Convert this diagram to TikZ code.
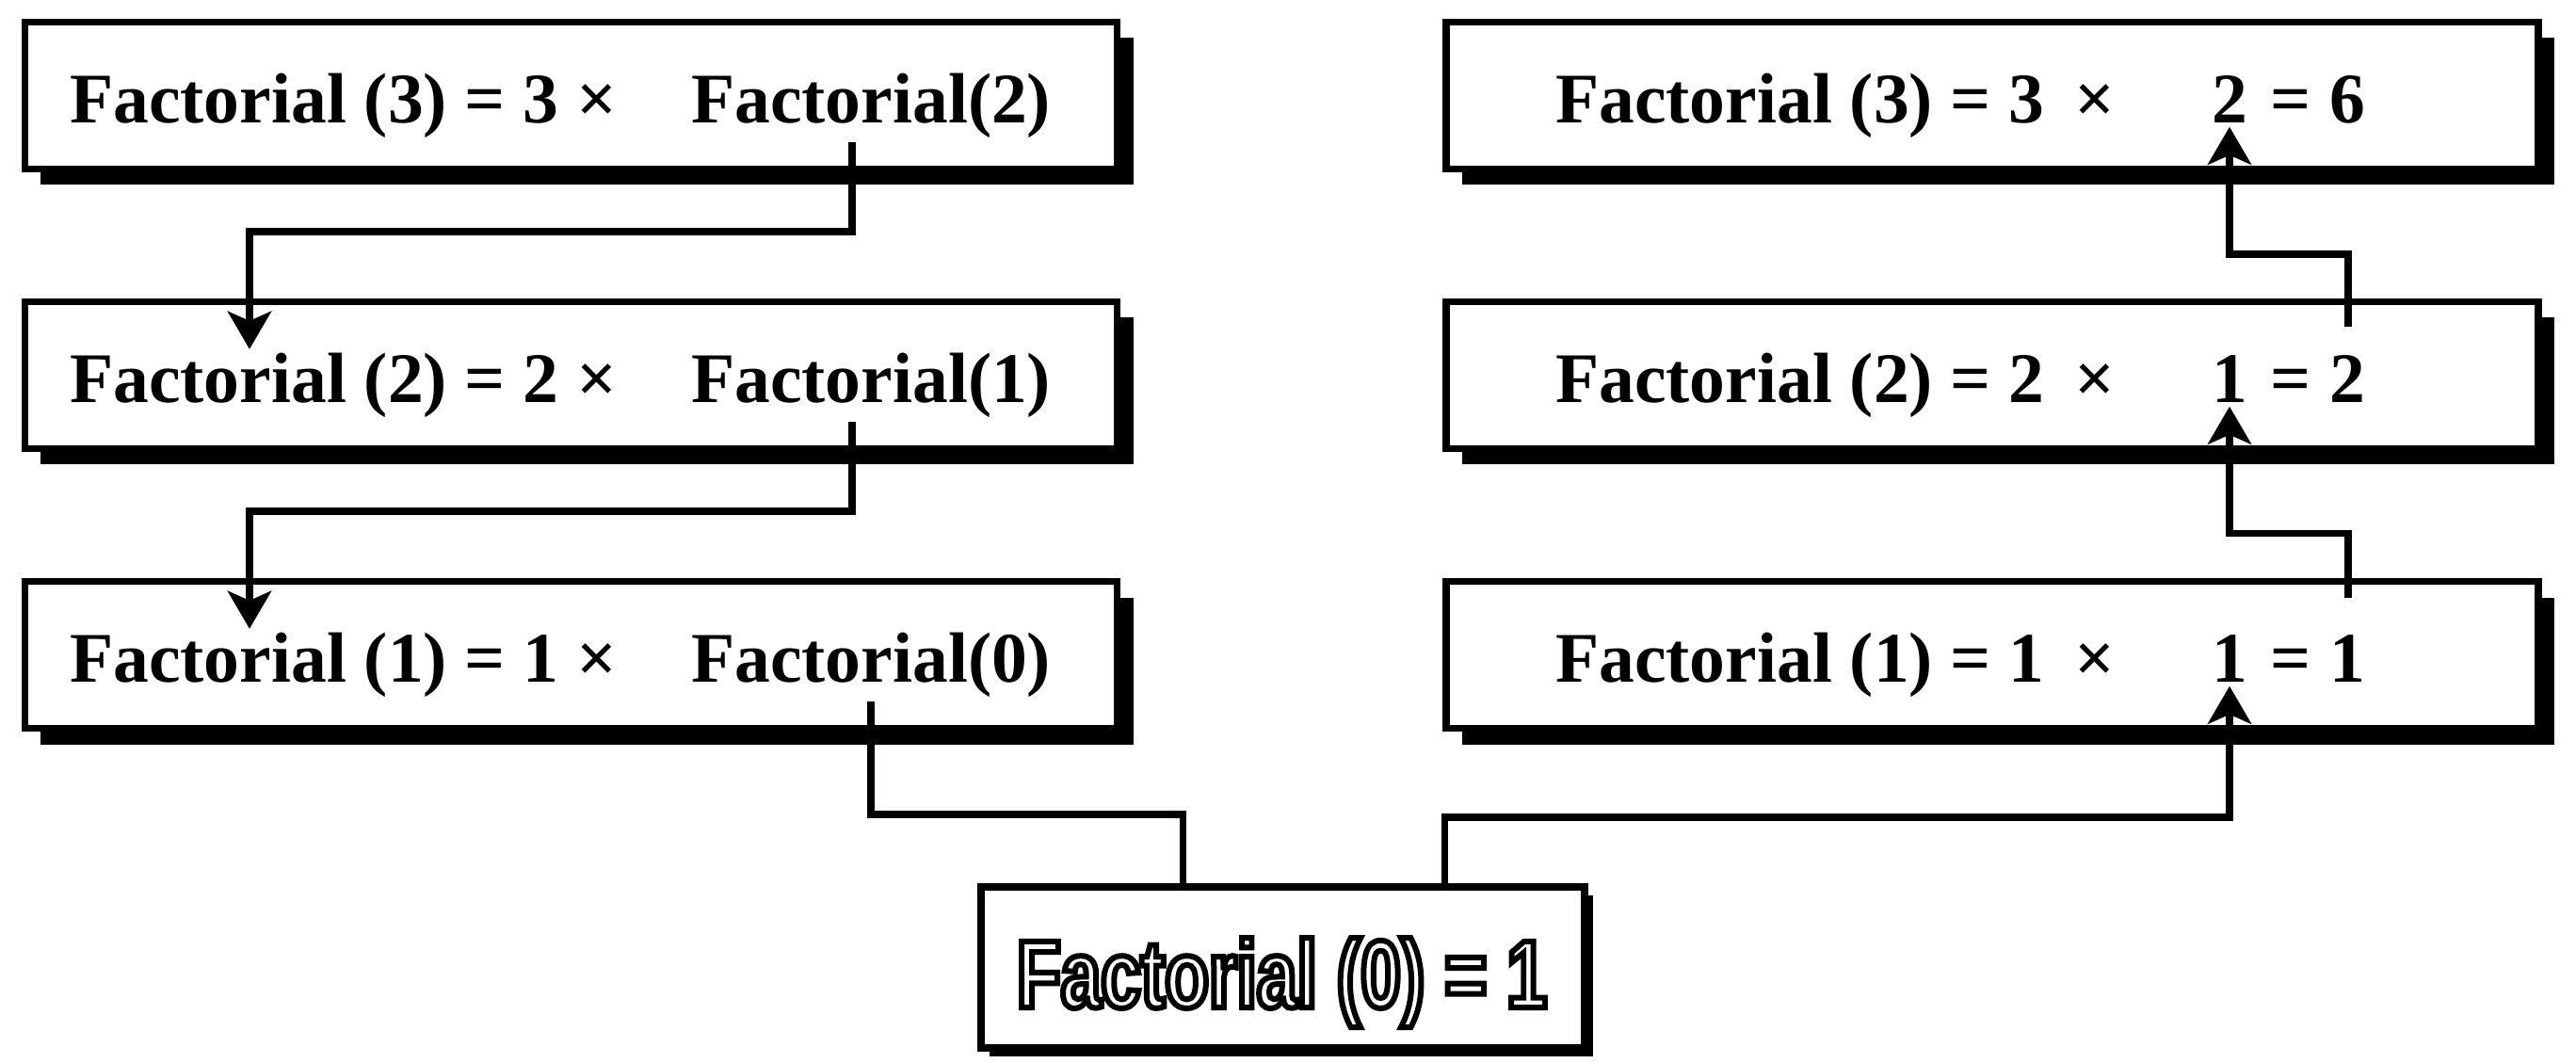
\documentclass[tikz,border=0pt]{standalone}
\usepackage{fontspec}
\setmainfont{Liberation Serif}
\newfontfamily\hollowfont[FakeStretch=0.75]{Liberation Sans}
\usetikzlibrary{shadows,arrows.meta}
\newcommand{\hollow}[1]{\special{pdf:literal direct 1 Tr 1.7 w}#1\special{pdf:literal direct 0 Tr 0.4 w}}
\tikzset{
	factbox/.style={draw, line width=2.2pt, fill=white, minimum width=11.6cm, minimum height=1.56cm,
		drop shadow={shadow xshift=#1, shadow yshift=-#1, fill=black, opacity=1}},
	factbox/.default=0.17cm,
	facttext/.style={inner sep=1pt, font=\fontsize{21.5}{25}\selectfont\bfseries},
	link/.style={line width=2.2pt},
}
\begin{document}
\begin{tikzpicture}[>={Stealth[length=4mm,width=4.6mm,inset=1mm]}]
		\useasboundingbox (0,0) rectangle (27.36,11.28);
		\foreach \n/\m/\y/\dx in {3/2/10.265/-0.2, 2/1/7.295/-0.2, 1/0/4.325/0}{
			\node[factbox] (L\n) at (6.065,\y) {};
			\node[facttext, anchor=base west] (LA\n) at (0.7,\y-0.29) {Factorial (\n) = {\n} ×};
			\node[facttext, anchor=base west] (LB\n) at (7.3,\y-0.29) {Factorial(\m)};
			\coordinate (LS\n) at ([xshift=\dx cm]LB\n.south);
		}
		\foreach \n/\val/\res/\y in {3/2/6/10.265, 2/1/2/7.295, 1/1/1/4.325}{
			\node[factbox] (R\n) at (21.16,\y) {};
			\node[facttext, anchor=base west] (RA\n) at (16.48,\y-0.29) {Factorial (\n) = {\n} \,×};
			\node[facttext, anchor=base] (RV\n) at (23.68,\y-0.29) {\val};
			\node[facttext, anchor=base west] (RE\n) at ([xshift=0.16cm]RV\n.base east) {=};
			\node[facttext, anchor=base west] (RS\n) at ([xshift=0.12cm]RE\n.base east) {\res};
		}
		\node[factbox=0.09cm, minimum width=6.41cm, minimum height=1.71cm] (B) at (13.625,1.005) {};
		% calls going down on the left
		\draw[link, ->] (LS3) -- ++(0,-0.95) -| ([xshift=1.95cm]LA2.north west);
		\draw[link, ->] (LS2) -- ++(0,-0.95) -| ([xshift=1.95cm]LA1.north west);
		\draw[link] (LS1) -- ++(0,-1.2) -| ([xshift=-1.06cm]B.north);
		% results going up on the right
		\draw[link, ->] ([xshift=1.72cm]B.north) -- ++(0,0.7) -| (RV1.south);
		\draw[link, ->] ([yshift=0.35cm]RS1.north) -- ++(0,0.69) -| (RV2.south);
		\draw[link, ->] ([yshift=0.26cm]RS2.north) -- ++(0,0.77) -| (RV3.south);
		\node[inner sep=1pt, anchor=base, font=\hollowfont\bfseries\fontsize{29}{33}\selectfont] (BT) at (13.615,0.58) {\hollow{Factorial (0) = 1}};
\end{tikzpicture}
\end{document}
